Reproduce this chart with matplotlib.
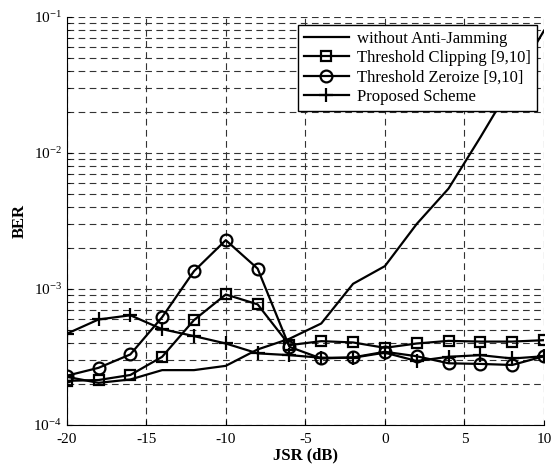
import numpy as np
import matplotlib
matplotlib.use("Agg")
import matplotlib.pyplot as plt
from matplotlib.ticker import LogLocator, NullFormatter, MultipleLocator

plt.rcParams['font.family'] = ['Liberation Serif', 'DejaVu Serif']
plt.rcParams['mathtext.fontset'] = 'custom'
plt.rcParams['mathtext.rm'] = 'Liberation Serif'
plt.rcParams['mathtext.it'] = 'Liberation Serif:italic'
plt.rcParams['mathtext.bf'] = 'Liberation Serif:bold'
plt.rcParams['axes.unicode_minus'] = False

jsr = [-20, -18, -16, -14, -12, -10, -8, -6, -4, -2, 0, 2, 4, 6, 8, 10]

ber_none = [2.26e-4, 2.04e-4, 2.16e-4, 2.53e-4, 2.53e-4, 2.72e-4, 3.59e-4, 4.3e-4,
            5.57e-4, 1.09e-3, 1.47e-3, 3.0e-3, 5.46e-3, 1.3e-2, 3.2e-2, 7.9e-2]
ber_clip = [2.11e-4, 2.14e-4, 2.33e-4, 3.17e-4, 5.9e-4, 9.1e-4, 7.7e-4, 3.86e-4,
            4.13e-4, 4.04e-4, 3.69e-4, 3.97e-4, 4.15e-4, 4.1e-4, 4.1e-4, 4.2e-4]
ber_zero = [2.3e-4, 2.63e-4, 3.3e-4, 6.2e-4, 1.35e-3, 2.28e-3, 1.41e-3, 3.75e-4,
            3.08e-4, 3.14e-4, 3.45e-4, 3.2e-4, 2.84e-4, 2.81e-4, 2.76e-4, 3.2e-4]
ber_prop = [4.68e-4, 5.96e-4, 6.4e-4, 5.06e-4, 4.5e-4, 3.97e-4, 3.36e-4, 3.26e-4,
            3.12e-4, 3.12e-4, 3.4e-4, 2.95e-4, 3.17e-4, 3.26e-4, 3.08e-4, 3.2e-4]

labels = ['without Anti-Jamming', 'Threshold Clipping [9,10]',
          'Threshold Zeroize [9,10]', 'Proposed Scheme']

fig = plt.figure(figsize=(5.53, 4.71), dpi=100)
ax = fig.add_axes([0.1206, 0.0977, 0.8631, 0.8668])

lw = 1.6
ax.semilogy(jsr, ber_none, '-', color='black', lw=lw, label=labels[0])
ax.semilogy(jsr, ber_clip, '-s', color='black', lw=lw, ms=7, mfc='none', mew=1.6, label=labels[1])
ax.semilogy(jsr, ber_zero, '-o', color='black', lw=lw, ms=8.5, mfc='none', mew=1.6, label=labels[2])
ax.semilogy(jsr, ber_prop, '-+', color='black', lw=lw, ms=10, mew=1.6, label=labels[3])

ax.set_xlim(-20, 10)
ax.set_ylim(1e-4, 1e-1)
ax.xaxis.set_major_locator(MultipleLocator(5))
ax.yaxis.set_major_locator(LogLocator(base=10, numticks=10))
ax.yaxis.set_minor_locator(LogLocator(base=10, subs=np.arange(2, 10), numticks=20))
ax.yaxis.set_minor_formatter(NullFormatter())

ax.grid(True, which='major', axis='both', linestyle=(0, (6, 4)), color='#333333', lw=0.8)
ax.grid(True, which='minor', axis='y', linestyle=(0, (6, 4)), color='#333333', lw=0.8)

ax.spines['top'].set_visible(False)
ax.spines['right'].set_visible(False)
ax.tick_params(direction='in', which='both', labelsize=11)
ax.tick_params(which='minor', length=2)
ax.tick_params(axis='x', pad=6)

ax.set_xlabel('JSR (dB)', fontsize=12, fontweight='bold', labelpad=1)
ax.set_ylabel('BER', fontsize=12, fontweight='bold', labelpad=4)

leg = ax.legend(loc='upper right', bbox_to_anchor=(0.985, 0.98), fontsize=12,
                frameon=True, fancybox=False, edgecolor='black', framealpha=1,
                handlelength=2.7, borderpad=0.35, labelspacing=0.2, handletextpad=0.5,
                borderaxespad=0)
leg.get_frame().set_linewidth(1.0)

fig.savefig('out.png', dpi=100)
